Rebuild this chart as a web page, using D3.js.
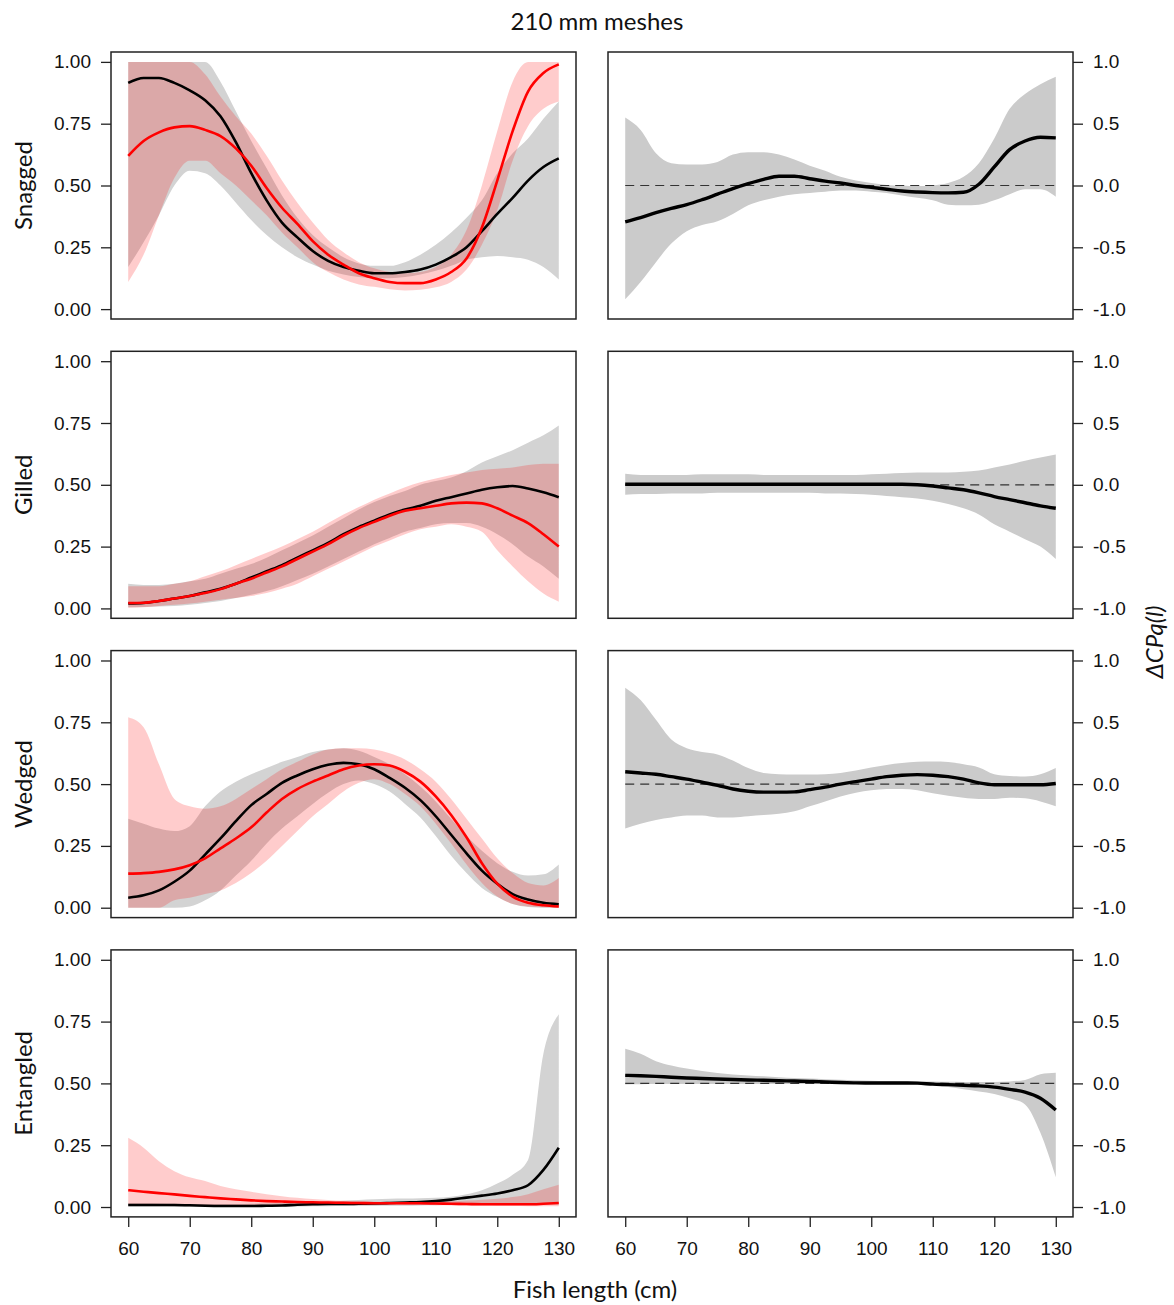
<!DOCTYPE html>
<html>
<head>
<meta charset="utf-8">
<script src="https://cdn.jsdelivr.net/npm/d3@7"></script>
<style>
  body { margin: 0; background: #fff; }
</style>
</head>
<body>
<svg id="chart" width="1174" height="1305"></svg>
<script>
// fish length (cm), shared by every series
const lengths = [60, 62.5, 65, 67.5, 70, 72.5, 75, 77.5, 80, 82.5, 85, 87.5, 90, 92.5, 95,
                 97.5, 100, 102.5, 105, 107.5, 110, 112.5, 115, 117.5, 120, 122.5, 125, 127.5, 130];

const categories = ["Snagged", "Gilled", "Wedged", "Entangled"];
const xTicks = [60, 70, 80, 90, 100, 110, 120, 130];
const yTicksLeft = [0, 0.25, 0.5, 0.75, 1];
const yTicksRight = [-1, -0.5, 0, 0.5, 1];

// ---- Snagged
const snaggedBlack   = [0.915,0.935,0.935,0.915,0.885,0.845,0.78,0.675,0.55,0.44,0.35,0.29,0.235,0.195,0.17,0.155,0.145,0.145,0.15,0.16,0.18,0.21,0.25,0.315,0.385,0.45,0.52,0.575,0.61];
const snaggedBlackLo = [0.17,0.27,0.38,0.50,0.56,0.55,0.50,0.43,0.36,0.30,0.25,0.21,0.18,0.155,0.14,0.13,0.125,0.125,0.13,0.14,0.155,0.175,0.20,0.21,0.215,0.21,0.20,0.17,0.12];
const snaggedBlackHi = [1,1,1,1,1,1,0.92,0.80,0.68,0.57,0.46,0.37,0.30,0.25,0.21,0.185,0.175,0.175,0.19,0.22,0.26,0.31,0.37,0.44,0.55,0.63,0.69,0.77,0.84];
const snaggedRed     = [0.62,0.68,0.715,0.735,0.74,0.725,0.70,0.65,0.58,0.49,0.41,0.345,0.275,0.22,0.18,0.145,0.125,0.11,0.105,0.105,0.12,0.15,0.205,0.33,0.52,0.72,0.88,0.955,0.99];
const snaggedRedLo   = [0.11,0.22,0.38,0.53,0.60,0.60,0.55,0.50,0.44,0.38,0.31,0.25,0.19,0.15,0.12,0.10,0.09,0.08,0.075,0.078,0.088,0.11,0.16,0.26,0.40,0.60,0.74,0.81,0.84];
const snaggedRedHi   = [1,1,1,1,1,0.95,0.86,0.78,0.71,0.62,0.52,0.43,0.35,0.28,0.23,0.19,0.165,0.15,0.145,0.15,0.17,0.22,0.32,0.50,0.72,0.92,1,1,1];
const snaggedDiff    = [-0.295,-0.26,-0.22,-0.185,-0.155,-0.115,-0.07,-0.025,0.015,0.05,0.075,0.075,0.055,0.035,0.02,0.0,-0.015,-0.03,-0.045,-0.053,-0.058,-0.06,-0.055,0.01,0.15,0.29,0.36,0.39,0.385];
const snaggedDiffLo  = [-0.92,-0.78,-0.62,-0.47,-0.37,-0.32,-0.29,-0.23,-0.16,-0.12,-0.09,-0.07,-0.06,-0.05,-0.04,-0.04,-0.05,-0.06,-0.08,-0.10,-0.12,-0.155,-0.16,-0.155,-0.12,-0.07,-0.03,-0.03,-0.09];
const snaggedDiffHi  = [0.55,0.45,0.26,0.18,0.17,0.17,0.19,0.25,0.27,0.27,0.25,0.21,0.16,0.12,0.07,0.04,0.02,0.005,0.0,-0.005,0.0,0.02,0.07,0.18,0.38,0.62,0.74,0.82,0.88];

// ---- Gilled
const gilledBlack   = [0.02,0.022,0.03,0.04,0.05,0.065,0.08,0.10,0.125,0.15,0.175,0.205,0.235,0.265,0.30,0.33,0.355,0.38,0.40,0.415,0.435,0.45,0.465,0.48,0.49,0.495,0.485,0.47,0.45];
const gilledBlackLo = [0.005,0.006,0.008,0.01,0.015,0.022,0.03,0.042,0.055,0.07,0.09,0.115,0.14,0.17,0.20,0.23,0.26,0.285,0.31,0.325,0.34,0.345,0.345,0.33,0.30,0.26,0.21,0.17,0.12];
const gilledBlackHi = [0.10,0.095,0.095,0.10,0.11,0.12,0.14,0.16,0.18,0.205,0.235,0.265,0.295,0.33,0.365,0.40,0.43,0.455,0.475,0.50,0.515,0.53,0.555,0.59,0.615,0.64,0.67,0.70,0.74];
const gilledRed     = [0.022,0.023,0.03,0.04,0.05,0.062,0.078,0.10,0.12,0.145,0.17,0.20,0.23,0.26,0.295,0.325,0.35,0.375,0.395,0.405,0.415,0.425,0.428,0.425,0.405,0.375,0.345,0.30,0.25];
const gilledRedLo   = [0.003,0.005,0.01,0.015,0.02,0.027,0.035,0.042,0.05,0.062,0.08,0.10,0.13,0.16,0.19,0.22,0.25,0.275,0.30,0.32,0.33,0.34,0.33,0.31,0.235,0.17,0.11,0.06,0.027];
const gilledRedHi   = [0.09,0.09,0.09,0.10,0.11,0.13,0.15,0.175,0.20,0.225,0.25,0.28,0.31,0.345,0.38,0.41,0.44,0.465,0.49,0.51,0.525,0.54,0.55,0.56,0.565,0.57,0.58,0.585,0.585];
const gilledDiff    = [0.005,0.005,0.005,0.005,0.005,0.005,0.005,0.005,0.005,0.005,0.005,0.005,0.005,0.005,0.005,0.005,0.005,0.005,0.004,0.0,-0.01,-0.025,-0.04,-0.065,-0.095,-0.12,-0.145,-0.17,-0.19];
const gilledDiffLo  = [-0.08,-0.075,-0.075,-0.07,-0.07,-0.07,-0.065,-0.065,-0.065,-0.065,-0.065,-0.065,-0.065,-0.07,-0.07,-0.075,-0.08,-0.09,-0.10,-0.11,-0.13,-0.155,-0.19,-0.24,-0.32,-0.38,-0.44,-0.50,-0.60];
const gilledDiffHi  = [0.09,0.08,0.08,0.08,0.08,0.085,0.085,0.085,0.085,0.08,0.08,0.08,0.08,0.08,0.08,0.08,0.085,0.09,0.095,0.10,0.10,0.10,0.105,0.115,0.14,0.165,0.195,0.22,0.245];

// ---- Wedged
const wedgedBlack   = [0.04,0.05,0.07,0.105,0.15,0.215,0.28,0.35,0.415,0.46,0.505,0.535,0.56,0.578,0.586,0.58,0.56,0.525,0.485,0.435,0.37,0.295,0.22,0.15,0.097,0.055,0.033,0.02,0.014];
const wedgedBlackLo = [0,0,0,0,0.005,0.03,0.07,0.13,0.19,0.26,0.32,0.37,0.42,0.465,0.50,0.515,0.50,0.47,0.42,0.365,0.29,0.21,0.14,0.08,0.043,0.015,0.003,0,0];
const wedgedBlackHi = [0.36,0.34,0.32,0.31,0.33,0.41,0.47,0.51,0.54,0.565,0.59,0.61,0.63,0.64,0.645,0.635,0.61,0.58,0.54,0.49,0.43,0.36,0.29,0.23,0.18,0.145,0.13,0.135,0.175];
const wedgedRed     = [0.138,0.14,0.145,0.155,0.172,0.20,0.24,0.28,0.325,0.385,0.44,0.48,0.51,0.535,0.56,0.575,0.58,0.575,0.55,0.51,0.45,0.375,0.285,0.18,0.097,0.045,0.02,0.01,0.005];
const wedgedRedLo   = [0,0,0,0.03,0.04,0.055,0.07,0.10,0.14,0.19,0.25,0.31,0.37,0.42,0.47,0.505,0.52,0.50,0.46,0.41,0.34,0.26,0.175,0.10,0.045,0.015,0.005,0.002,0];
const wedgedRedHi   = [0.77,0.73,0.58,0.44,0.41,0.40,0.41,0.44,0.48,0.52,0.56,0.59,0.62,0.64,0.645,0.645,0.64,0.625,0.60,0.56,0.51,0.44,0.36,0.28,0.20,0.14,0.10,0.09,0.12];
const wedgedDiff    = [0.10,0.09,0.08,0.06,0.04,0.015,-0.01,-0.04,-0.058,-0.065,-0.065,-0.063,-0.045,-0.025,0.0,0.02,0.04,0.06,0.072,0.077,0.072,0.06,0.04,0.01,-0.005,-0.005,-0.005,-0.005,0.005];
const wedgedDiffLo  = [-0.36,-0.32,-0.29,-0.27,-0.255,-0.255,-0.27,-0.27,-0.26,-0.25,-0.24,-0.22,-0.18,-0.14,-0.10,-0.07,-0.05,-0.04,-0.04,-0.05,-0.075,-0.095,-0.11,-0.12,-0.12,-0.11,-0.115,-0.14,-0.18];
const wedgedDiffHi  = [0.78,0.68,0.52,0.36,0.29,0.26,0.24,0.19,0.13,0.09,0.08,0.078,0.078,0.08,0.09,0.11,0.135,0.155,0.17,0.18,0.182,0.178,0.16,0.135,0.08,0.066,0.062,0.08,0.13];

// ---- Entangled
const entangledBlack   = [0.008,0.008,0.008,0.008,0.007,0.005,0.004,0.004,0.004,0.005,0.006,0.009,0.011,0.012,0.012,0.013,0.014,0.016,0.018,0.02,0.024,0.03,0.038,0.046,0.055,0.068,0.088,0.15,0.24];
const entangledBlackLo = [0.002,0.002,0.002,0.001,0.001,0.001,0.001,0.001,0.001,0.001,0.002,0.002,0.003,0.003,0.004,0.004,0.004,0.005,0.005,0.006,0.007,0.008,0.009,0.01,0.01,0.011,0.011,0.01,0.01];
const entangledBlackHi = [0.015,0.015,0.014,0.013,0.012,0.012,0.012,0.012,0.013,0.014,0.016,0.018,0.02,0.022,0.025,0.028,0.031,0.033,0.034,0.035,0.037,0.042,0.052,0.068,0.095,0.13,0.19,0.62,0.78];
const entangledRed     = [0.068,0.062,0.056,0.051,0.045,0.04,0.035,0.031,0.027,0.024,0.022,0.02,0.019,0.018,0.017,0.016,0.015,0.015,0.015,0.015,0.014,0.013,0.012,0.011,0.011,0.011,0.011,0.013,0.016];
const entangledRedLo   = [0.01,0.009,0.009,0.008,0.008,0.007,0.007,0.006,0.006,0.006,0.006,0.007,0.007,0.008,0.008,0.009,0.009,0.009,0.008,0.008,0.007,0.006,0.005,0.005,0.004,0.004,0.003,0.003,0.003];
const entangledRedHi   = [0.28,0.24,0.185,0.145,0.12,0.105,0.085,0.072,0.062,0.052,0.044,0.037,0.032,0.028,0.025,0.023,0.021,0.02,0.02,0.02,0.021,0.023,0.026,0.029,0.033,0.04,0.052,0.072,0.09];
const entangledDiff    = [0.065,0.062,0.057,0.05,0.044,0.04,0.036,0.032,0.028,0.025,0.022,0.019,0.016,0.012,0.007,0.004,0.003,0.003,0.003,0.002,-0.006,-0.01,-0.015,-0.02,-0.03,-0.048,-0.07,-0.12,-0.215];
const entangledDiffLo  = [-0.008,-0.006,-0.005,-0.005,-0.005,-0.005,-0.005,-0.005,-0.005,-0.005,-0.005,-0.005,-0.005,-0.005,-0.005,-0.005,-0.005,-0.006,-0.007,-0.009,-0.015,-0.03,-0.048,-0.065,-0.085,-0.12,-0.17,-0.40,-0.76];
const entangledDiffHi  = [0.28,0.24,0.18,0.145,0.12,0.10,0.085,0.073,0.064,0.057,0.05,0.044,0.039,0.034,0.029,0.025,0.022,0.02,0.018,0.016,0.015,0.013,0.012,0.011,0.012,0.016,0.028,0.075,0.087];

const rows = [
  { label: categories[0], black: snaggedBlack, blackLo: snaggedBlackLo, blackHi: snaggedBlackHi,
    red: snaggedRed, redLo: snaggedRedLo, redHi: snaggedRedHi,
    diff: snaggedDiff, diffLo: snaggedDiffLo, diffHi: snaggedDiffHi },
  { label: categories[1], black: gilledBlack, blackLo: gilledBlackLo, blackHi: gilledBlackHi,
    red: gilledRed, redLo: gilledRedLo, redHi: gilledRedHi,
    diff: gilledDiff, diffLo: gilledDiffLo, diffHi: gilledDiffHi },
  { label: categories[2], black: wedgedBlack, blackLo: wedgedBlackLo, blackHi: wedgedBlackHi,
    red: wedgedRed, redLo: wedgedRedLo, redHi: wedgedRedHi,
    diff: wedgedDiff, diffLo: wedgedDiffLo, diffHi: wedgedDiffHi },
  { label: categories[3], black: entangledBlack, blackLo: entangledBlackLo, blackHi: entangledBlackHi,
    red: entangledRed, redLo: entangledRedLo, redHi: entangledRedHi,
    diff: entangledDiff, diffLo: entangledDiffLo, diffHi: entangledDiffHi }
];

const svg = d3.select("#chart");
const tickFont = "'Liberation Sans', Arial, sans-serif";
const labelFont = "Lato, 'Open Sans', sans-serif";

const panelW = 465, panelH = 267;
const leftX = 111, rightX = 608;
const rowTop = i => 52 + i * 299.3;

// R style: 4% padding around the data range
const xLeft  = d3.scaleLinear().domain([57.2, 132.8]).range([leftX, leftX + panelW]);
const xRight = d3.scaleLinear().domain([57.2, 132.8]).range([rightX, rightX + panelW]);

function band(x, y, lo, hi) {
  return d3.area()
    .x((d, i) => x(lengths[i]))
    .y0((d, i) => y(lo[i]))
    .y1((d, i) => y(hi[i]))
    .curve(d3.curveMonotoneX)(lengths);
}
function line(x, y, vals) {
  return d3.line()
    .x((d, i) => x(lengths[i]))
    .y((d, i) => y(vals[i]))
    .curve(d3.curveMonotoneX)(lengths);
}

function styleAxis(g) {
  g.select(".domain").remove();
  g.selectAll(".tick line").attr("stroke", "#222").attr("stroke-width", 1.3);
  g.selectAll(".tick text")
    .attr("fill", "#111")
    .style("font-family", tickFont)
    .style("font-size", "19px");
}

rows.forEach((r, i) => {
  const top = rowTop(i);
  const yL = d3.scaleLinear().domain([-0.04, 1.04]).range([top + panelH, top]);
  const yR = d3.scaleLinear().domain([-1.08, 1.08]).range([top + panelH, top]);

  // ---------- left panel: probabilities
  const gl = svg.append("g").attr("class", "left-panel");
  gl.append("path").attr("d", band(xLeft, yL, r.blackLo, r.blackHi)).attr("fill", "#d3d3d3");
  gl.append("path").attr("d", band(xLeft, yL, r.redLo, r.redHi)).attr("fill", "rgba(255,0,0,0.2)");
  gl.append("path").attr("d", line(xLeft, yL, r.black))
    .attr("fill", "none").attr("stroke", "#000").attr("stroke-width", 2.6);
  gl.append("path").attr("d", line(xLeft, yL, r.red))
    .attr("fill", "none").attr("stroke", "#ff0000").attr("stroke-width", 2.6);
  gl.append("rect")
    .attr("x", leftX).attr("y", top).attr("width", panelW).attr("height", panelH)
    .attr("fill", "none").attr("stroke", "#222").attr("stroke-width", 1.5);

  gl.append("g")
    .attr("transform", `translate(${leftX},0)`)
    .call(d3.axisLeft(yL).tickValues(yTicksLeft).tickFormat(d3.format(".2f")).tickSize(10).tickPadding(10))
    .call(styleAxis);

  gl.append("text")
    .attr("transform", `translate(32,${top + panelH / 2}) rotate(-90)`)
    .attr("text-anchor", "middle")
    .style("font-family", labelFont)
    .style("font-size", "24px")
    .attr("fill", "#111")
    .text(r.label);

  // ---------- right panel: difference
  const gr = svg.append("g").attr("class", "right-panel");
  gr.append("path").attr("d", band(xRight, yR, r.diffLo, r.diffHi)).attr("fill", "#cbcbcb");
  gr.append("line")
    .attr("x1", xRight(d3.min(lengths))).attr("x2", xRight(d3.max(lengths)))
    .attr("y1", yR(0)).attr("y2", yR(0))
    .attr("stroke", "#333").attr("stroke-width", 1.2).attr("stroke-dasharray", "9,6");
  gr.append("path").attr("d", line(xRight, yR, r.diff))
    .attr("fill", "none").attr("stroke", "#000").attr("stroke-width", 3.4);
  gr.append("rect")
    .attr("x", rightX).attr("y", top).attr("width", panelW).attr("height", panelH)
    .attr("fill", "none").attr("stroke", "#222").attr("stroke-width", 1.5);

  gr.append("g")
    .attr("transform", `translate(${rightX + panelW},0)`)
    .call(d3.axisRight(yR).tickValues(yTicksRight).tickFormat(d3.format(".1f")).tickSize(10).tickPadding(10))
    .call(styleAxis)
    .selectAll(".tick text").text(d => d3.format(".1f")(d).replace("−", "-"));

  // bottom axes on the last row only
  if (i === rows.length - 1) {
    [xLeft, xRight].forEach(x => {
      svg.append("g")
        .attr("transform", `translate(0,${top + panelH})`)
        .call(d3.axisBottom(x).tickValues(xTicks).tickFormat(d3.format("d")).tickSize(10).tickPadding(15))
        .call(styleAxis);
    });
  }
});

// titles
svg.append("text")
  .attr("x", 597).attr("y", 30)
  .attr("text-anchor", "middle")
  .style("font-family", labelFont).style("font-size", "24px")
  .attr("fill", "#111")
  .text("210 mm meshes");

svg.append("text")
  .attr("x", 595).attr("y", 1298)
  .attr("text-anchor", "middle")
  .style("font-family", labelFont).style("font-size", "24px")
  .attr("fill", "#111")
  .text("Fish length (cm)");

svg.append("text")
  .attr("transform", "translate(1163,642) rotate(-90)")
  .attr("text-anchor", "middle")
  .style("font-family", labelFont).style("font-size", "24px").style("font-style", "italic")
  .attr("fill", "#111")
  .text("ΔCPq(l)");
</script>
</body>
</html>
